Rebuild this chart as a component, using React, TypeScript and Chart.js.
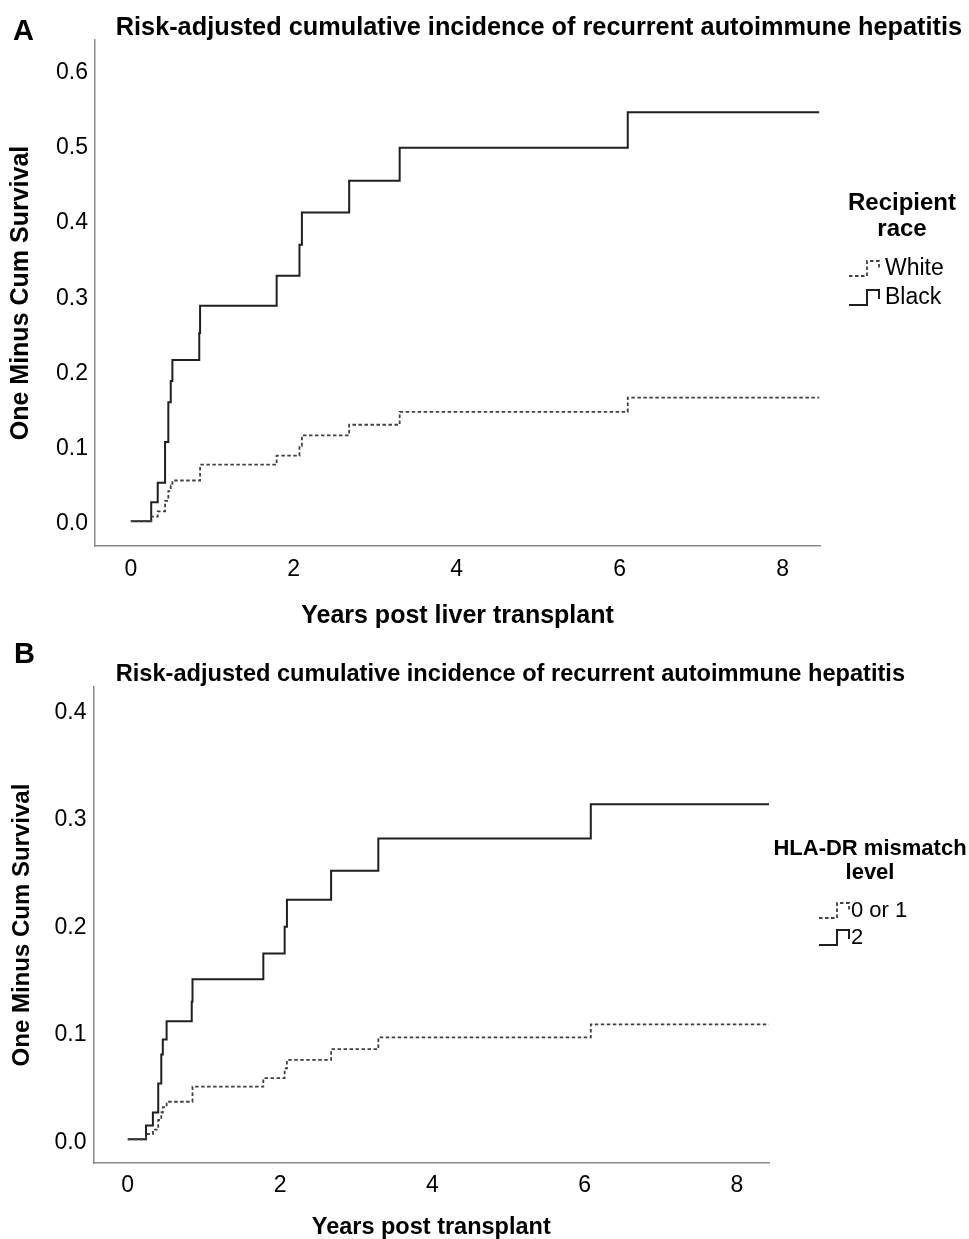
import React, { useEffect, useRef } from 'react';
import { Chart, registerables } from 'chart.js';

Chart.register(...registerables);

const FONT = '"Liberation Sans", Arial, Helvetica, sans-serif';

// ---------- text ----------
const CHART_TITLE = 'Risk-adjusted cumulative incidence of recurrent autoimmune hepatitis';
const Y_TITLE = 'One Minus Cum Survival';
const X_TITLE_A = 'Years post liver transplant';
const X_TITLE_B = 'Years post transplant';
const LEGEND_TITLE_A = ['Recipient', 'race'];
const LEGEND_TITLE_B = ['HLA-DR mismatch', 'level'];
const SERIES_A = ['White', 'Black'];
const SERIES_B = ['0 or 1', '2'];

// ---------- ticks ----------
const X_TICKS = [0, 2, 4, 6, 8];
const Y_TICKS_A = [0, 0.1, 0.2, 0.3, 0.4, 0.5, 0.6];
const Y_TICKS_B = [0, 0.1, 0.2, 0.3, 0.4];

// ---------- data: panel A (recipient race) ----------
const YEARS_A = [0, 0.25, 0.33, 0.42, 0.46, 0.49, 0.51, 0.84, 0.85, 1.79, 2.07, 2.10, 2.68, 3.30, 6.10, 8.45];
const WHITE_A = [0, 0.006, 0.013, 0.027, 0.040, 0.047, 0.054, 0.054, 0.075, 0.087, 0.100, 0.114, 0.128, 0.145, 0.164, 0.164];
const BLACK_A = [0, 0.025, 0.051, 0.105, 0.158, 0.186, 0.214, 0.250, 0.286, 0.326, 0.367, 0.410, 0.452, 0.496, 0.543, 0.543];

// ---------- data: panel B (HLA-DR mismatch) ----------
const YEARS_B = [0, 0.24, 0.33, 0.40, 0.44, 0.46, 0.51, 0.84, 0.85, 1.78, 2.06, 2.09, 2.67, 3.29, 6.08, 8.42];
const LOW_B = [0, 0.005, 0.009, 0.018, 0.025, 0.030, 0.035, 0.035, 0.049, 0.057, 0.066, 0.074, 0.084, 0.095, 0.107, 0.107];
const HIGH_B = [0, 0.013, 0.025, 0.052, 0.079, 0.093, 0.110, 0.128, 0.149, 0.173, 0.198, 0.223, 0.250, 0.280, 0.312, 0.312];

const AXIS_COLOR = '#8a8a8a';
const SOLID_COLOR = '#1f1f1f';
const DOTTED_COLOR = '#3f3f3f';

type PanelCfg = {
  width: number;
  height: number;
  xMin: number; xMax: number;
  yMin: number; yMax: number;
  yTicks: number[];
  years: number[];
  series: string[];
  values: number[][];
  xTitle: string;
  legendTitle: string[];
  titleSize: number;
  titlePad: { top: number; bottom: number };
  padRight: number;
  yAxisW: number;
  xAxisH: number;
  legendW: number;
  tickSize: number;
  xTickPad: number;
  yTitleSize: number;
  yTitlePad: number;
  xTitleSize: number;
  xTitlePad: number;
  xTitleLH: number;
  legend: { cx: number; titleY: number; titleLH: number; itemY: number; itemLH: number; symX: number; textX: number; titleSize: number; itemSize: number };
};

function stepLegend(cfg: PanelCfg['legend'], title: string[]) {
  return {
    id: 'stepLegend',
    afterDraw(chart: any) {
      const ctx = chart.ctx as CanvasRenderingContext2D;
      ctx.save();
      ctx.fillStyle = '#000';
      ctx.textBaseline = 'middle';
      ctx.textAlign = 'center';
      ctx.font = `bold ${cfg.titleSize}px ${FONT}`;
      title.forEach((line, i) => ctx.fillText(line, cfg.cx, cfg.titleY + i * cfg.titleLH));
      chart.data.datasets.forEach((ds: any, i: number) => {
        const cy = cfg.itemY + i * cfg.itemLH;
        const sx = cfg.symX;
        ctx.strokeStyle = ds.borderColor;
        ctx.lineWidth = ds.borderWidth;
        ctx.setLineDash(ds.borderDash || []);
        ctx.beginPath();
        ctx.moveTo(sx, cy + 7);
        ctx.lineTo(sx + 18, cy + 7);
        ctx.lineTo(sx + 18, cy - 8);
        ctx.lineTo(sx + 30, cy - 8);
        ctx.lineTo(sx + 30, cy + 1);
        ctx.stroke();
        ctx.setLineDash([]);
        ctx.textAlign = 'left';
        ctx.font = `${cfg.itemSize}px ${FONT}`;
        ctx.fillStyle = '#000';
        ctx.fillText(ds.label, cfg.textX, cy);
      });
      ctx.restore();
    },
  };
}

function makeConfig(p: PanelCfg): any {
  const styles = [
    { borderColor: DOTTED_COLOR, borderDash: [3.5, 2.5], borderWidth: 1.8 },
    { borderColor: SOLID_COLOR, borderDash: [], borderWidth: 2 },
  ];
  return {
    type: 'line',
    data: {
      datasets: p.series.map((name, i) => ({
        label: name,
        data: p.years.map((t, j) => ({ x: t, y: p.values[i][j] })),
        stepped: 'before',
        fill: false,
        pointRadius: 0,
        pointHoverRadius: 0,
        tension: 0,
        ...styles[i],
      })),
    },
    options: {
      animation: false,
      responsive: false,
      devicePixelRatio: 1,
      layout: { padding: { left: 0, top: 0, bottom: 0, right: p.padRight } },
      plugins: {
        legend: { display: false },
        tooltip: { enabled: false },
        title: {
          display: true,
          text: CHART_TITLE,
          align: 'end',
          color: '#000',
          font: { family: FONT, size: p.titleSize, weight: 'bold', lineHeight: 0.9 },
          padding: p.titlePad,
        },
      },
      scales: {
        x: {
          type: 'linear',
          min: p.xMin,
          max: p.xMax,
          afterBuildTicks: (s: any) => { s.ticks = X_TICKS.map((v) => ({ value: v })); },
          afterFit: (s: any) => { s.height = p.xAxisH; },
          grid: { display: false, drawTicks: false },
          border: { display: true, color: AXIS_COLOR, width: 1.5 },
          ticks: {
            color: '#000',
            font: { family: FONT, size: p.tickSize, lineHeight: 1.2 },
            padding: p.xTickPad,
            maxRotation: 0,
            autoSkip: false,
            callback: (v: any) => String(v),
          },
          title: {
            display: true,
            text: p.xTitle,
            color: '#000',
            font: { family: FONT, size: p.xTitleSize, weight: 'bold', lineHeight: p.xTitleLH },
            padding: { top: 0, bottom: p.xTitlePad },
          },
        },
        y: {
          type: 'linear',
          position: 'left',
          min: p.yMin,
          max: p.yMax,
          afterBuildTicks: (s: any) => { s.ticks = p.yTicks.map((v) => ({ value: v })); },
          afterFit: (s: any) => { s.width = p.yAxisW; },
          grid: { display: false, drawTicks: false },
          border: { display: true, color: AXIS_COLOR, width: 1.5 },
          ticks: {
            color: '#000',
            font: { family: FONT, size: p.tickSize },
            padding: 7,
            labelOffset: 3,
            autoSkip: false,
            callback: (v: any) => Number(v).toFixed(1),
          },
          title: {
            display: true,
            text: Y_TITLE,
            color: '#000',
            font: { family: FONT, size: p.yTitleSize, weight: 'bold', lineHeight: 1.2 },
            padding: { top: p.yTitlePad, bottom: 0 },
          },
        },
        legendSpace: {
          type: 'linear',
          position: 'right',
          min: 0,
          max: 1,
          display: true,
          grid: { display: false, drawTicks: false },
          border: { display: false },
          ticks: { display: false },
          afterFit: (s: any) => { s.width = p.legendW; },
        },
      },
    },
    plugins: [stepLegend(p.legend, p.legendTitle)],
  };
}

const PANEL_A: PanelCfg = {
  width: 969, height: 640,
  xMin: -0.44, xMax: 8.46,
  yMin: -0.033, yMax: 0.639,
  yTicks: Y_TICKS_A,
  years: YEARS_A,
  series: SERIES_A,
  values: [WHITE_A, BLACK_A],
  xTitle: X_TITLE_A,
  legendTitle: LEGEND_TITLE_A,
  titleSize: 25.3,
  titlePad: { top: 16.6, bottom: 0.6 },
  padRight: 7,
  yAxisW: 95,
  xAxisH: 94,
  legendW: 969 - 7 - 820,
  tickSize: 23,
  xTickPad: 10,
  yTitleSize: 25,
  yTitlePad: 6,
  xTitleSize: 25,
  xTitlePad: 9,
  xTitleLH: 1.2,
  legend: { cx: 902, titleY: 203, titleLH: 26, itemY: 269, itemLH: 29, symX: 849, textX: 885, titleSize: 24, itemSize: 23 },
};

const PANEL_B: PanelCfg = {
  width: 969, height: 599,
  xMin: -0.45, xMax: 8.42,
  yMin: -0.022, yMax: 0.421,
  yTicks: Y_TICKS_B,
  years: YEARS_B,
  series: SERIES_B,
  values: [LOW_B, HIGH_B],
  xTitle: X_TITLE_B,
  legendTitle: LEGEND_TITLE_B,
  titleSize: 23.6,
  titlePad: { top: 23.8, bottom: 2 },
  padRight: 64,
  yAxisW: 93.5,
  xAxisH: 76,
  legendW: 969 - 64 - 769,
  tickSize: 23,
  xTickPad: 9,
  yTitleSize: 24,
  yTitlePad: 7.5,
  xTitleSize: 23.5,
  xTitlePad: 0,
  xTitleLH: 1.0,
  legend: { cx: 870, titleY: 209, titleLH: 24, itemY: 271, itemLH: 27, symX: 819, textX: 851, titleSize: 22, itemSize: 22 },
};

function Panel({ cfg, top }: { cfg: PanelCfg; top: number }) {
  const ref = useRef<HTMLCanvasElement | null>(null);
  useEffect(() => {
    if (!ref.current) return;
    const chart = new Chart(ref.current, makeConfig(cfg));
    return () => chart.destroy();
  }, [cfg]);
  return (
    <canvas
      ref={ref}
      width={cfg.width}
      height={cfg.height}
      style={{ position: 'absolute', left: 0, top, width: cfg.width, height: cfg.height }}
    />
  );
}

const letterStyle: React.CSSProperties = {
  position: 'absolute',
  fontFamily: FONT,
  fontWeight: 'bold',
  fontSize: 29,
  lineHeight: '29px',
  color: '#000',
};

export default function App() {
  return (
    <div style={{ position: 'absolute', left: 0, top: 0, width: 969, height: 1239, overflow: 'hidden', background: '#fff' }}>
      <Panel cfg={PANEL_A} top={0} />
      <Panel cfg={PANEL_B} top={640} />
      <div style={{ ...letterStyle, left: 13, top: 16 }}>A</div>
      <div style={{ ...letterStyle, left: 14, top: 639 }}>B</div>
    </div>
  );
}
